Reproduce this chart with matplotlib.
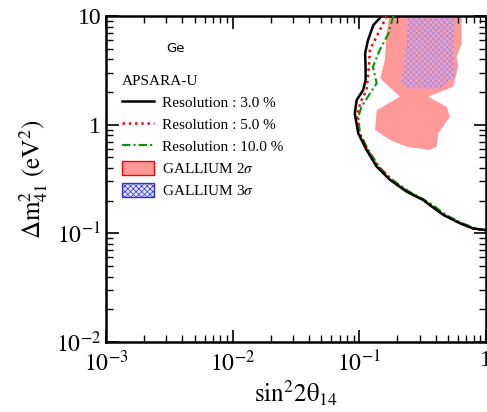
import numpy as np
import matplotlib
matplotlib.use("Agg")
import matplotlib.pyplot as plt
from matplotlib.patches import Patch
from matplotlib.lines import Line2D

plt.rcParams['font.family'] = ['Liberation Serif', 'DejaVu Serif']
plt.rcParams['mathtext.fontset'] = 'stix'
plt.rcParams['hatch.linewidth'] = 0.5

# exclusion curves (sin^2 2theta, dm^2)
res3_x = [0.150, 0.129, 0.117, 0.111, 0.112, 0.112, 0.107, 0.0953, 0.092, 0.098,
          0.114, 0.137, 0.175, 0.236, 0.319, 0.36, 0.46, 0.62, 0.79, 1.0]
res3_y = [10, 8.26, 6.0, 4.54, 3.42, 2.58, 2.08, 1.69, 1.27, 0.834,
          0.585, 0.411, 0.31, 0.242, 0.203, 0.182, 0.148, 0.124, 0.111, 0.107]

res5_x = [0.164, 0.141, 0.121, 0.119, 0.114, 0.104, 0.098, 0.096, 0.100,
          0.116, 0.140, 0.178, 0.240, 0.325, 0.37, 0.47, 0.63, 0.80, 1.0]
res5_y = [10, 6.93, 4.87, 3.42, 2.08, 1.69, 1.37, 1.2, 0.834,
          0.585, 0.41, 0.31, 0.242, 0.2, 0.18, 0.146, 0.123, 0.11, 0.106]

res10_x = [0.185, 0.170, 0.145, 0.128, 0.137, 0.121, 0.104, 0.098, 0.101,
           0.118, 0.143, 0.183, 0.248, 0.335, 0.385, 0.49, 0.66, 0.84, 1.0]
res10_y = [10, 6.93, 4.87, 3.42, 2.41, 1.93, 1.46, 1.18, 0.834,
           0.585, 0.41, 0.31, 0.242, 0.2, 0.18, 0.146, 0.123, 0.11, 0.107]

# gallium anomaly regions
ga2_x = [0.172, 0.164, 0.159, 0.146, 0.209, 0.137, 0.133, 0.175, 0.236, 0.36,
         0.407, 0.42, 0.519, 0.489, 0.35, 0.551, 0.604, 0.586, 0.642, 0.642]
ga2_y = [10, 6.93, 3.94, 2.67, 1.81, 1.36, 0.894, 0.723, 0.628, 0.585,
         0.628, 0.834, 1.18, 1.46, 1.81, 2.24, 3.42, 4.22, 5.61, 10]

ga3_x = [0.243, 0.236, 0.216, 0.236, 0.432, 0.569, 0.551, 0.569]
ga3_y = [10, 5.61, 2.58, 2.16, 2.16, 2.77, 4.87, 10]

fig = plt.figure(figsize=(4.87, 4.12), dpi=100)
ax = fig.add_axes([0.2177, 0.170, 0.7803, 0.791])

ax.fill(ga2_x, ga2_y, color='#ff9999', lw=0, zorder=1)
ax.fill(ga3_x, ga3_y, facecolor='#f4a0b8', edgecolor='#9a88e8', hatch='xxxxxx',
        lw=0, zorder=2)

ax.plot(res3_x, res3_y, color='black', lw=1.8, zorder=5)
ax.plot(res5_x, res5_y, color='red', lw=1.8, ls=(0, (1, 1.5)), zorder=4)
ax.plot(res10_x, res10_y, color='#009900', lw=1.5, ls=(0, (4, 1.5, 1, 1.5)), zorder=3)

ax.set_xscale('log')
ax.set_yscale('log')
ax.set_xlim(1e-3, 1)
ax.set_ylim(1e-2, 10)

ax.set_xticks([1e-3, 1e-2, 1e-1, 1])
ax.set_xticklabels([r'$10^{-3}$', r'$10^{-2}$', r'$10^{-1}$', '1'])
ax.set_yticks([1e-2, 1e-1, 1, 10])
ax.set_yticklabels([r'$10^{-2}$', r'$10^{-1}$', '1', '10'])

ax.tick_params(which='both', direction='in', top=True, right=True, labelsize=17)
ax.tick_params(which='major', length=9, width=1.2)
ax.tick_params(which='minor', length=5, width=1)
ax.tick_params(axis='x', pad=6)
for s in ax.spines.values():
    s.set_linewidth(1.8)

ax.set_xlabel(r'$\mathrm{sin^22\theta_{14}}$', fontsize=18, labelpad=2)
ax.set_ylabel(r'$\Delta\mathrm{m}^2_{41}\ \mathrm{(eV^2)}$', fontsize=18, labelpad=4)

ax.text(0.184, 0.902, 'Ge', transform=ax.transAxes, family='DejaVu Sans', fontsize=9.5,
        ha='center', va='center')

handles = [
    Line2D([], [], color='black', lw=1.8),
    Line2D([], [], color='red', lw=1.8, ls=(0, (1, 1.5))),
    Line2D([], [], color='#009900', lw=1.5, ls=(0, (4, 1.5, 1, 1.5))),
    Patch(facecolor='#ff9999', edgecolor='red', lw=1),
    Patch(facecolor='#e4e4fb', edgecolor='#3030e0', hatch='xxxxxx', lw=1),
]
labels = ['Resolution : 3.0 %', 'Resolution : 5.0 %', 'Resolution : 10.0 %',
          r'GALLIUM 2$\sigma$', r'GALLIUM 3$\sigma$']
leg = ax.legend(handles, labels, title='APSARA-U', loc='upper left',
                bbox_to_anchor=(0.025, 0.837), frameon=False, fontsize=11,
                title_fontsize=11, alignment='left', handlelength=2.1,
                handleheight=1.0, handletextpad=0.55, labelspacing=0.45,
                borderaxespad=0)

fig.savefig('out.png', dpi=100)
